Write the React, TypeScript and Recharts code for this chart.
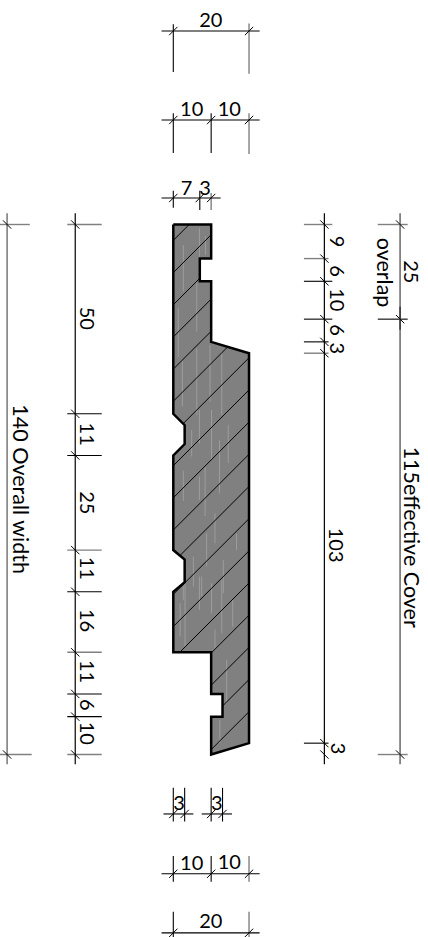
import { ScatterChart, Scatter, XAxis, YAxis, ReferenceLine } from 'recharts';

// everything is in millimetres: x across the board, y along it, origin at the top left of the profile
const profile = [
  [0, 0], [10, 0], [10, 9], [7, 9], [7, 15], [10, 15], [10, 31], [20, 34], [20, 137], [10, 140],
  [10, 130], [13, 130], [13, 124], [10, 124], [10, 113], [0, 113], [0, 97], [3, 94.5], [3, 88.5],
  [0, 86], [0, 61], [3, 58], [3, 53], [0, 50], [0, 0],
];

// x + y value of each 45 degree hatch line
const hatchOffsets = [4.2, 12.7, 21.2, 29.7, 38.2, 46.7, 55.2, 63.7, 72.2, 80.7, 89.2, 97.7, 106.2, 114.7, 123.2, 131.7, 140.2, 148.7];

// pale wood grain: x, y start, y end
const grain = [
  [2.65, 5.4, 17.7], [6.9, 1, 9], [9.7, 1, 3.5], [8.5, 3, 8], [6.2, 15, 28.3], [1.3, 22, 35], [9.7, 31.9, 46.8],
  [12.8, 33.6, 50.3], [6.2, 32.7, 50.3], [2.4, 36, 48], [4.85, 54.3, 61.3], [6.9, 49, 57.8], [8.4, 64, 77],
  [10.1, 49, 62], [12.2, 57, 71], [14.5, 53, 63], [16.7, 81.6, 86], [2.65, 65, 73], [6.9, 66.6, 72.8],
  [11, 76.3, 84.2], [8.8, 81.6, 90.3], [5.3, 87.7, 95.6], [7.5, 93, 98.3], [2.65, 95.6, 99.1], [13.2, 88.6, 97.4],
  [3.1, 94.8, 111.5], [6.9, 93, 101.8], [10.1, 94.8, 102.7], [12.8, 93.9, 108], [15.7, 99.2, 106.2],
  [11, 107, 112], [14.1, 115, 126.5], [1.8, 100, 108.8], [12.3, 130.9, 137],
];

const BLACK = '#000000';
const GRAY = '#808080';

// horizontal dimension lines: y, x start, x end, ticks
const topBottomDims: [number, number, number, number[]][] = [
  [-51.1, -3.1, 22.8, [0, 20]],
  [-27.6, -3.1, 22.8, [0, 10, 20]],
  [-7, -3.1, 12.5, [0, 7, 10]],
  [155.7, -2.6, 5.3, [0, 3]],
  [155.7, 7.5, 15.5, [10, 13]],
  [171.5, -3.1, 22.8, [0, 10, 20]],
  [187.1, -3.1, 22.8, [0, 20]],
];

// witness lines of those: x, y start, y end, colour
const topBottomWitness: [number, number, number, string][] = [
  [0, -52.9, -40.3, BLACK], [20, -53.1, -39.8, GRAY],
  [0, -29.4, -18.9, BLACK], [10, -29.4, -18.9, BLACK], [20, -29.4, -18.6, GRAY],
  [0, -8.9, -4.4, BLACK], [7, -8.9, -3.8, BLACK], [10, -8.3, -3.8, GRAY],
  [0, 148.8, 157.7, BLACK], [3, 148.8, 157.7, BLACK], [10, 148.8, 157.7, BLACK], [13, 148.8, 157.7, BLACK],
  [0, 166.8, 173.6, BLACK], [10, 166.8, 173.6, BLACK], [20, 166.8, 173.6, GRAY],
  [0, 181.5, 190, BLACK], [20, 181.5, 190, GRAY],
];

// vertical dimension lines: x, colour, stroke width, y ticks
const sideDims: [number, string, number, number[]][] = [
  [-43.9, '#555555', 1.2, [0, 140]],
  [-25.9, BLACK, 1.2, [0, 50, 61, 86, 97, 113, 124, 130, 140]],
  [39.9, BLACK, 1.2, [0, 9, 15, 25, 31, 34, 137, 140]],
  [59.9, GRAY, 1.8, [0, 25, 140]],
];

// witness lines of those: y, x start, x end, colour
const sideWitness: [number, number, number, string][] = [
  [0, -45.8, -37.9, GRAY], [140, -45.8, -37.4, GRAY],
  [0, -28, -18.9, GRAY], [50, -28, -18.9, BLACK], [61, -28, -18.9, BLACK], [86, -28, -18.9, GRAY],
  [97, -28, -18.9, BLACK], [113, -28, -18.9, GRAY], [124, -28, -18.9, BLACK], [130, -28, -18.9, BLACK], [140, -28, -18.9, GRAY],
  [0, 34.5, 42, GRAY], [9, 34.5, 41, GRAY], [15, 34.5, 42, BLACK], [25, 34.5, 42, BLACK],
  [31, 34.5, 41, BLACK], [34, 34.5, 41, GRAY], [137, 34.5, 41, BLACK],
  [0, 54, 61.9, GRAY], [25, 54, 61.9, BLACK], [140, 54, 61.9, GRAY],
];

const flatLabels = [
  { x: 9.9, y: -54, text: '20' },
  { x: 4.85, y: -30.5, text: '10' },
  { x: 14.8, y: -30.5, text: '10' },
  { x: 3.5, y: -9.6, text: '7' },
  { x: 8.4, y: -9.6, text: '3' },
  { x: 1.5, y: 152.9, text: '3' },
  { x: 11.5, y: 152.9, text: '3' },
  { x: 4.85, y: 168.7, text: '10' },
  { x: 14.8, y: 168.3, text: '10' },
  { x: 9.9, y: 184, text: '20' },
];

const turnedLabels = [
  { x: 42.9, y: 4.5, text: '9' },
  { x: 42.9, y: 12.3, text: '6' },
  { x: 42.9, y: 19.9, text: '10' },
  { x: 42.9, y: 27.9, text: '6' },
  { x: 42.9, y: 32.7, text: '3' },
  { x: 42.7, y: 84.7, text: '103' },
  { x: 43.2, y: 138.4, text: '3' },
  { x: 62.5, y: 12.5, text: '25' },
  { x: -23.1, y: 24.8, text: '50' },
  { x: -23.1, y: 55.4, text: '11' },
  { x: -23.1, y: 73.5, text: '25' },
  { x: -23.1, y: 90.8, text: '11' },
  { x: -23.1, y: 104.6, text: '16' },
  { x: -23.1, y: 118.1, text: '11' },
  { x: -23.1, y: 126.9, text: '6' },
  { x: -23.1, y: 134.4, text: '10' },
];

const wordLabels = [
  { x: 55.5, y: 12.7, text: 'overlap' },
  { x: 62.5, y: 82.6, text: '115effective Cover' },
  { x: -40.7, y: 69.9, text: '140 Overall width' },
];

type Seg = { a: { x: number; y: number }; b: { x: number; y: number }; color: string; width: number };

// cut one hatch line against the profile, gives the inside pieces
function clipHatch(c: number): Seg[] {
  const hits: number[] = [];
  for (let i = 0; i < profile.length - 1; i++) {
    const [x1, y1] = profile[i];
    const [x2, y2] = profile[i + 1];
    const s1 = x1 + y1 - c;
    const s2 = x2 + y2 - c;
    if (s1 < 0 !== s2 < 0) hits.push(x1 + ((x2 - x1) * s1) / (s1 - s2));
  }
  hits.sort((p, q) => p - q);
  const out: Seg[] = [];
  for (let i = 0; i + 1 < hits.length; i += 2) {
    out.push({ a: { x: hits[i], y: c - hits[i] }, b: { x: hits[i + 1], y: c - hits[i + 1] }, color: BLACK, width: 1 });
  }
  return out;
}

const grainLines: Seg[] = grain.map(([x, y1, y2]) => ({ a: { x, y: y1 }, b: { x, y: y2 }, color: '#9c9c9c', width: 1 }));
const hatchLines: Seg[] = hatchOffsets.flatMap(clipHatch);

const dimLines: Seg[] = [
  ...topBottomWitness.map(([x, y1, y2, color]) => ({ a: { x, y: y1 }, b: { x, y: y2 }, color, width: color === GRAY ? 1.4 : 1.1 })),
  ...sideWitness.map(([y, x1, x2, color]) => ({ a: { x: x1, y }, b: { x: x2, y }, color, width: color === GRAY ? 1.4 : 1.1 })),
  ...topBottomDims.map(([y, x1, x2]) => ({ a: { x: x1, y }, b: { x: x2, y }, color: BLACK, width: 1.1 })),
  ...sideDims.map(([x, color, width]) => ({ a: { x, y: -3 }, b: { x, y: 142.6 }, color, width })),
  // the bit of the cover line that doubles up at the overlap end
  { a: { x: 59.9, y: 21.7 }, b: { x: 59.9, y: 27.8 }, color: '#333333', width: 1.4 },
  // slashes
  ...topBottomDims.flatMap(([y, , , ticks]) =>
    ticks.map((x) => ({ a: { x: x - 1.1, y: y + 1.1 }, b: { x: x + 1.1, y: y - 1.1 }, color: BLACK, width: 1 })),
  ),
  ...sideDims.flatMap(([x, , , ticks]) =>
    ticks.map((y) => ({ a: { x: x - 1.1, y: y - 1.1 }, b: { x: x + 1.1, y: y + 1.1 }, color: BLACK, width: 1 })),
  ),
];

const outlineData = profile.map(([x, y]) => ({ x, y }));

const NoDot = () => <g />;

const FlatText = (props: any) => (
  <text x={props.cx} y={props.cy} dy={-1} textAnchor="middle" dominantBaseline="central" fontFamily="Lato" fontSize={20} fill="#000">
    {props.payload.text}
  </text>
);

const turned = (size: number) => (props: any) => (
  <text
    x={props.cx}
    y={props.cy}
    dy={-2}
    transform={`rotate(90 ${props.cx} ${props.cy})`}
    textAnchor="middle"
    dominantBaseline="central"
    fontFamily="Lato"
    fontSize={size}
    fill="#000"
  >
    {props.payload.text}
  </text>
);

const drawLine = (s: Seg, key: string) => (
  <ReferenceLine key={key} segment={[s.a, s.b]} stroke={s.color} strokeWidth={s.width} ifOverflow="visible" />
);

const drawSeries = (s: Seg, key: string) => (
  <Scatter
    key={key}
    data={[s.a, s.b]}
    isAnimationActive={false}
    shape={NoDot}
    line={{ stroke: s.color, strokeWidth: s.width }}
  />
);

export default function App() {
  return (
    <div style={{ position: 'absolute', left: 0, top: 0, width: 428, height: 937, background: '#fff' }}>
      <ScatterChart width={428} height={937} margin={{ top: 0, right: 0, bottom: 0, left: 0 }}>
        <XAxis dataKey="x" type="number" domain={[-45.77, 67.27]} allowDataOverflow hide />
        <YAxis dataKey="y" type="number" domain={[-59.3, 188.2]} reversed allowDataOverflow hide />
        {dimLines.map((s, i) => drawLine(s, `d${i}`))}
        <Scatter data={outlineData} isAnimationActive={false} shape={NoDot} line={{ stroke: 'none', fill: '#808080' }} />
        {grainLines.map((s, i) => drawSeries(s, `g${i}`))}
        {hatchLines.map((s, i) => drawSeries(s, `h${i}`))}
        <Scatter data={outlineData} isAnimationActive={false} shape={NoDot} line={{ stroke: '#000', strokeWidth: 2.5, fill: 'none' }} />
        <Scatter data={flatLabels} isAnimationActive={false} shape={FlatText} />
        <Scatter data={turnedLabels} isAnimationActive={false} shape={turned(20)} />
        <Scatter data={wordLabels} isAnimationActive={false} shape={turned(21.5)} />
      </ScatterChart>
    </div>
  );
}
